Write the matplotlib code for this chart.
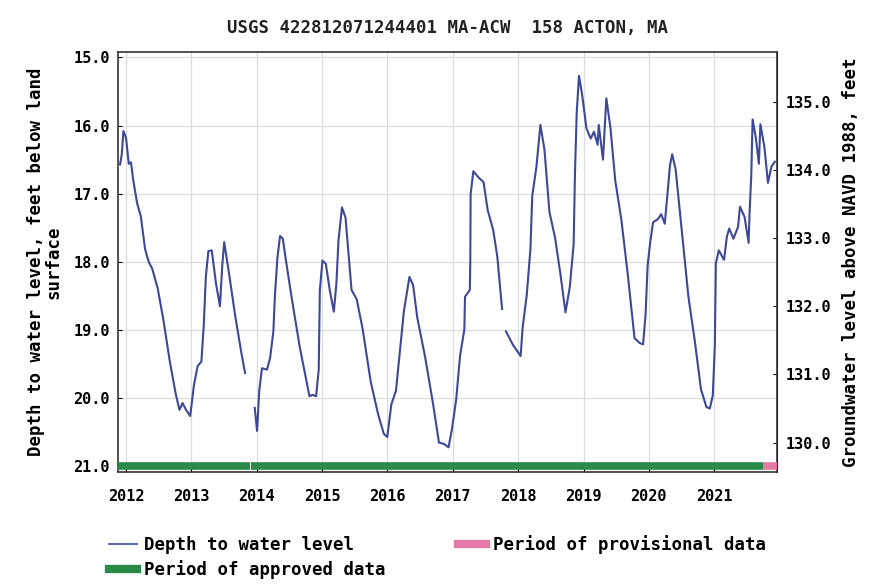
import numpy as np
import matplotlib
matplotlib.use('Agg')
import matplotlib.pyplot as plt
from matplotlib.lines import Line2D

# 观测数据（十进制年份, 水位埋深 ft），三个连续段
seg1_year = [2011.91, 2011.936, 2011.961, 2012.001, 2012.043, 2012.077, 2012.111, 2012.171,
             2012.227, 2012.292, 2012.348, 2012.402, 2012.486, 2012.576, 2012.669, 2012.760,
             2012.818, 2012.866, 2012.919, 2012.983, 2013.038, 2013.096, 2013.154, 2013.189,
             2013.222, 2013.261, 2013.312, 2013.378, 2013.438, 2013.472, 2013.503, 2013.577,
             2013.671, 2013.763, 2013.822]
seg1_depth = [16.57, 16.42, 16.08, 16.18, 16.56, 16.54, 16.80, 17.14,
              17.33, 17.81, 18.00, 18.10, 18.39, 18.87, 19.45, 19.93,
              20.17, 20.07, 20.17, 20.26, 19.82, 19.53, 19.46, 18.95,
              18.22, 17.84, 17.83, 18.32, 18.65, 18.07, 17.71, 18.17,
              18.79, 19.32, 19.63]

seg2_year = [2013.970, 2014.006, 2014.039, 2014.080, 2014.157, 2014.205, 2014.255, 2014.279,
             2014.316, 2014.357, 2014.400, 2014.443, 2014.536, 2014.659, 2014.748, 2014.807,
             2014.856, 2014.909, 2014.949, 2014.966, 2015.006, 2015.058, 2015.119, 2015.180,
             2015.219, 2015.251, 2015.305, 2015.359, 2015.451, 2015.531, 2015.620, 2015.745,
             2015.859, 2015.944, 2015.997, 2016.060, 2016.131, 2016.191, 2016.251, 2016.337,
             2016.393, 2016.457, 2016.576, 2016.696, 2016.789, 2016.866, 2016.935, 2016.988,
             2017.053, 2017.111, 2017.177, 2017.187, 2017.261, 2017.268, 2017.273, 2017.314,
             2017.393, 2017.471, 2017.534, 2017.618, 2017.681, 2017.754]
seg2_depth = [20.14, 20.48, 19.89, 19.56, 19.58, 19.41, 19.02, 18.49,
              17.95, 17.62, 17.66, 17.95, 18.53, 19.25, 19.68, 19.97,
              19.95, 19.97, 19.58, 18.42, 17.98, 18.03, 18.42, 18.73,
              18.32, 17.69, 17.20, 17.35, 18.41, 18.55, 18.98, 19.76,
              20.24, 20.52, 20.57, 20.09, 19.89, 19.31, 18.73, 18.22,
              18.34, 18.82, 19.39, 20.07, 20.65, 20.67, 20.72, 20.45,
              20.01, 19.38, 18.99, 18.51, 18.41, 17.98, 17.01, 16.67,
              16.76, 16.83, 17.24, 17.53, 17.92, 18.69]

seg3_year = [2017.814, 2017.922, 2018.038, 2018.068, 2018.131, 2018.188, 2018.216, 2018.280,
             2018.340, 2018.402, 2018.479, 2018.566, 2018.647, 2018.724, 2018.790, 2018.849,
             2018.870, 2018.896, 2018.931, 2018.981, 2019.045, 2019.110, 2019.160, 2019.216,
             2019.233, 2019.298, 2019.349, 2019.412, 2019.486, 2019.579, 2019.679, 2019.781,
             2019.860, 2019.911, 2019.949, 2019.981, 2020.021, 2020.064, 2020.139, 2020.189,
             2020.243, 2020.282, 2020.322, 2020.356, 2020.409, 2020.465, 2020.533, 2020.606,
             2020.700, 2020.797, 2020.881, 2020.933, 2020.978, 2021.009, 2021.025, 2021.070,
             2021.150, 2021.193, 2021.229, 2021.294, 2021.366, 2021.394, 2021.464, 2021.526,
             2021.540, 2021.566, 2021.587, 2021.635, 2021.683, 2021.706, 2021.767, 2021.822,
             2021.876, 2021.926]
seg3_depth = [19.02, 19.22, 19.38, 18.97, 18.49, 17.81, 17.03, 16.60,
              15.99, 16.35, 17.27, 17.65, 18.18, 18.74, 18.37, 17.74,
              16.68, 15.81, 15.27, 15.56, 16.04, 16.19, 16.09, 16.28,
              15.99, 16.50, 15.60, 16.03, 16.81, 17.38, 18.20, 19.12,
              19.19, 19.21, 18.78, 18.05, 17.71, 17.42, 17.37, 17.30,
              17.44, 17.03, 16.59, 16.42, 16.64, 17.17, 17.80, 18.52,
              19.14, 19.87, 20.13, 20.15, 19.96, 19.23, 18.02, 17.83,
              17.97, 17.63, 17.51, 17.66, 17.48, 17.19, 17.34, 17.72,
              17.29, 16.75, 15.91, 16.17, 16.56, 15.98, 16.31, 16.84,
              16.60, 16.53]

# 数据审核期（年份区间）
approved_periods = [(2011.878, 2013.89), (2013.91, 2021.75)]
provisional_periods = [(2021.75, 2021.96)]

years = list(range(2012, 2022))
depth_ticks = [15, 16, 17, 18, 19, 20, 21]
elev_ticks = [130, 131, 132, 133, 134, 135]
LAND_SURFACE = 150.65      # 地表高程 (NAVD 1988)

LINE_C = '#3d4896'
GREEN = '#2a8a4a'
PINK = '#e67aa6'
FONT = 'DejaVu Sans Mono'

plt.rcParams['font.family'] = FONT
plt.rcParams['font.weight'] = 'bold'

fig = plt.figure(figsize=(8.74, 5.84), dpi=100)
ax = fig.add_axes([0.135, 0.192, 0.754, 0.719])

nan = [np.nan]
x_all = seg1_year + nan + seg2_year + nan + seg3_year
y_all = seg1_depth + nan + seg2_depth + nan + seg3_depth
ax.plot(x_all, y_all, color=LINE_C, lw=1.5, zorder=3)

for a, b in approved_periods:
    ax.plot([a, b], [21.0, 21.0], color=GREEN, lw=5.5, solid_capstyle='butt', zorder=4)
for a, b in provisional_periods:
    ax.plot([a, b], [21.0, 21.0], color=PINK, lw=5.5, solid_capstyle='butt', zorder=4)

ax.set_xlim(2011.878, 2021.96)
ax.set_ylim(21.08, 14.92)
ax.set_xticks(years)
ax.set_xticklabels([str(y) for y in years])
ax.set_yticks(depth_ticks)
ax.set_yticklabels(['%.1f' % d for d in depth_ticks])
ax.grid(True, color='#dcdcdc', lw=0.9)
ax.tick_params(direction='in', length=3, labelsize=11, width=0.8, pad=6)
ax.tick_params(axis='x', pad=12)
for lab in ax.get_xticklabels() + ax.get_yticklabels():
    lab.set_fontweight('bold')
for s in ax.spines.values():
    s.set_color('#333333')
    s.set_linewidth(1.2)

sec = ax.secondary_yaxis('right', functions=(lambda d: LAND_SURFACE - d,
                                             lambda e: LAND_SURFACE - e))
sec.set_yticks(elev_ticks)
sec.set_yticklabels(['%.1f' % e for e in elev_ticks])
sec.tick_params(direction='in', length=3, labelsize=11, width=0.8, pad=6)
for lab in sec.get_yticklabels():
    lab.set_fontweight('bold')
sec.set_ylabel('Groundwater level above NAVD 1988, feet', fontsize=12.5,
               fontweight='bold', labelpad=8)

ax.set_ylabel('Depth to water level, feet below land\nsurface', fontsize=12.5,
              fontweight='bold', linespacing=0.95, labelpad=8)
ax.set_title('USGS 422812071244401 MA-ACW  158 ACTON, MA', fontsize=12.5,
             fontweight='bold', pad=14, color='#222222')

handles = [Line2D([], [], color=LINE_C, lw=1.2),
           Line2D([], [], color=GREEN, lw=6),
           Line2D([], [], color=PINK, lw=6)]
labels = ['Depth to water level', 'Period of approved data', 'Period of provisional data']
fig.legend(handles, labels, loc='upper left', bbox_to_anchor=(0.125, 0.084), ncol=2,
           frameon=False, fontsize=12.5, handlelength=1.6, handletextpad=0.4,
           labelspacing=0.35, columnspacing=4.2, borderaxespad=0, borderpad=0)

fig.savefig('out.png', dpi=100)
